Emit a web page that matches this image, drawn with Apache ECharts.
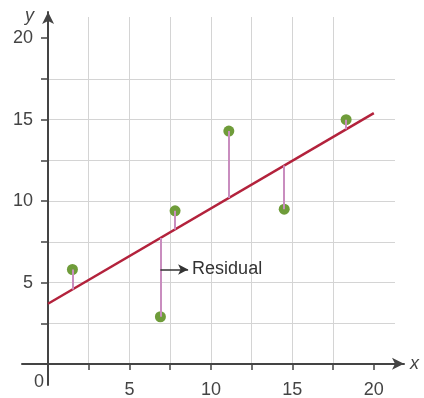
<!DOCTYPE html>
<html>
<head>
<meta charset="utf-8">
<script src="https://cdn.jsdelivr.net/npm/echarts@6/dist/echarts.min.js"></script>
<style>
  html, body { margin: 0; padding: 0; background: #fff; }
  #main { width: 424px; height: 398px; }
</style>
</head>
<body>
<div id="main"></div>
<script>
// data points
var xs = [1.5, 6.9, 7.8, 11.1, 14.5, 18.3];
var ys = [5.8, 2.9, 9.4, 14.3, 9.5, 15.0];
// regression line end points
var lineX = [0, 20];
var lineY = [3.7, 15.4];
// ticks and labels
var tickVals = [0, 2.5, 5, 7.5, 10, 12.5, 15, 17.5, 20];
var labelVals = [5, 10, 15, 20];
// "Residual" pointer: from point index 1, at height noteY, to noteToX
var noteIdx = 1;
var noteY = 5.8;
var noteToX = 8.6;

function fit(x) {
    return lineY[0] + (lineY[1] - lineY[0]) * (x - lineX[0]) / (lineX[1] - lineX[0]);
}

var chart = echarts.init(document.getElementById('main'));
var font = 'Liberation Sans, Arial, sans-serif';
var axisColor = '#444';

var residuals = xs.map(function (x, i) {
    return [{ coord: [x, ys[i]] }, { coord: [x, fit(x)] }];
});

var option = {
    animation: false,
    grid: [
        { left: 48, top: 17, width: 347, height: 347, outerBoundsMode: 'none' },
        { left: 22, top: 12, width: 382, height: 373, outerBoundsMode: 'none' }
    ],
    xAxis: [
        {
            gridIndex: 0, type: 'value', min: 0, max: 21.3, interval: 2.5,
            axisLine: { show: false },
            axisTick: { show: true, length: 6, customValues: tickVals, lineStyle: { color: axisColor, width: 1.5 } },
            axisLabel: { customValues: labelVals, fontSize: 18, color: axisColor, fontFamily: font, margin: 17 },
            splitLine: { show: true, showMaxLine: false, lineStyle: { color: '#d4d4d4', width: 1 } }
        },
        {
            gridIndex: 1, type: 'value', min: -1.6, max: 21.84,
            axisLine: { onZero: true, symbol: ['none', 'arrow'], symbolSize: [9, 12], lineStyle: { color: axisColor, width: 2 } },
            axisTick: { show: false },
            axisLabel: { customValues: [0], align: 'right', padding: [0, 4, 0, 0], fontSize: 18, color: axisColor, fontFamily: font, margin: -12 },
            splitLine: { show: false },
            name: 'x', nameLocation: 'end', nameGap: 6,
            nameTextStyle: { fontSize: 18, fontStyle: 'italic', color: axisColor, fontFamily: font }
        }
    ],
    yAxis: [
        {
            gridIndex: 0, type: 'value', min: 0, max: 21.3, interval: 2.5,
            axisLine: { show: false },
            axisTick: { show: true, length: 7, customValues: tickVals, lineStyle: { color: axisColor, width: 1.5 } },
            axisLabel: { customValues: labelVals, fontSize: 18, color: axisColor, fontFamily: font, margin: 15 },
            splitLine: { show: true, showMaxLine: false, lineStyle: { color: '#d4d4d4', width: 1 } }
        },
        {
            gridIndex: 1, type: 'value', min: -1.3, max: 21.58,
            axisLine: { onZero: true, symbol: ['none', 'arrow'], symbolSize: [9, 12], lineStyle: { color: axisColor, width: 2 } },
            axisTick: { show: false },
            axisLabel: { show: false },
            splitLine: { show: false },
            name: 'y', nameLocation: 'end', nameGap: -4,
            nameTextStyle: { fontSize: 18, fontStyle: 'italic', color: axisColor, fontFamily: font, align: 'right', verticalAlign: 'middle', padding: [0, 14, 0, 0] }
        }
    ],
    series: [
        {
            name: 'residuals',
            type: 'line',
            xAxisIndex: 0, yAxisIndex: 0,
            data: [],
            markLine: {
                silent: true, symbol: ['none', 'none'],
                label: { show: false },
                lineStyle: { color: '#c98dbf', width: 2, type: 'solid' },
                data: residuals
            }
        },
        {
            name: 'note',
            type: 'line',
            xAxisIndex: 0, yAxisIndex: 0,
            data: [],
            markLine: {
                silent: true, symbol: ['none', 'arrow'], symbolSize: [8, 10],
                lineStyle: { color: '#333', width: 1.5, type: 'solid' },
                label: { show: true, position: 'end', formatter: 'Residual', distance: 4, fontSize: 18, color: '#333', fontFamily: font },
                data: [[{ coord: [xs[noteIdx], noteY] }, { coord: [noteToX, noteY] }]]
            }
        },
        {
            name: 'fit',
            type: 'line',
            xAxisIndex: 0, yAxisIndex: 0,
            data: lineX.map(function (x, i) { return [x, lineY[i]]; }),
            showSymbol: false,
            lineStyle: { color: '#b3223c', width: 2.5 },
            z: 3
        },
        {
            name: 'points',
            type: 'scatter',
            xAxisIndex: 0, yAxisIndex: 0,
            data: xs.map(function (x, i) { return [x, ys[i]]; }),
            symbolSize: 11,
            itemStyle: { color: '#6f9c3a', opacity: 1 },
            z: 4
        }
    ]
};
chart.setOption(option);
</script>
</body>
</html>
